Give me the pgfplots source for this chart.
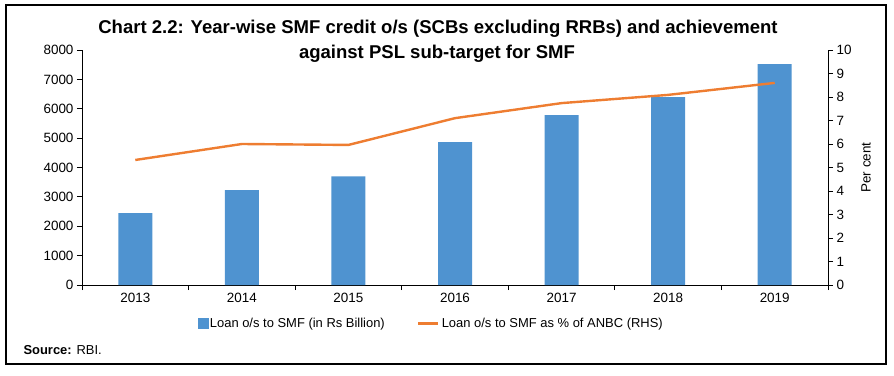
\documentclass[border=0pt]{standalone}
\usepackage{pgfplots}
\pgfplotsset{compat=1.18}
\usepackage{fontspec}
\setmainfont{Liberation Sans}
\definecolor{barblue}{HTML}{4F93D0}
\definecolor{lineorange}{HTML}{EE7D31}
\begin{document}
\begin{tikzpicture}[x=1bp,y=1bp]
\path[use as bounding box] (0,0) rectangle (894,375);
\draw[line width=1.2bp] (6,370) rectangle (886,11);
\node[anchor=base, font=\bfseries\fontsize{18.6}{22}\selectfont] at (438,341.5) {Chart 2.2: Year-wise SMF credit o/s (SCBs excluding RRBs) and achievement};
\node[anchor=base, font=\bfseries\fontsize{18.6}{22}\selectfont] at (437,316.5) {against PSL sub-target for SMF};
\node[anchor=base west, font=\fontsize{13}{15}\selectfont] at (20,21) {\textbf{Source:} RBI.};
\begin{axis}[
  at={(82bp,90bp)}, anchor=south west,
  scale only axis, width=746bp, height=235bp,
  xmin=-0.5, xmax=6.5, ymin=0, ymax=8000,
  axis x line*=bottom, axis y line*=left,
  ytick={0,1000,...,8000},
  xtick={0,...,6}, xticklabels={2013,2014,2015,2016,2017,2018,2019},
  major x tick style={draw=none},
  minor xtick={-0.5,0.5,...,6.5},
  tick align=outside, major tick length=5bp, minor tick length=5bp,
  scaled y ticks=false,
  /pgf/number format/1000 sep={},
  /pgf/number format/assume math mode=true,
  tick label style={font=\fontsize{13.5}{15}\selectfont},
  axis line style={line width=0.8bp},
  tick style={line width=0.8bp, black},
  ybar, bar width=34bp,
]
\addplot[fill=barblue, draw=none] coordinates {(0,2450) (1,3230) (2,3700) (3,4860) (4,5780) (5,6400) (6,7520)};
\end{axis}
\begin{axis}[
  at={(82bp,90bp)}, anchor=south west,
  scale only axis, width=746bp, height=235bp,
  xmin=-0.5, xmax=6.5, ymin=0, ymax=10,
  axis x line=none, axis y line*=right,
  ytick={0,1,...,10},
  tick align=outside, major tick length=5bp,
  /pgf/number format/assume math mode=true,
  tick label style={font=\fontsize{13.5}{15}\selectfont},
  axis line style={line width=0.8bp},
  tick style={line width=0.8bp, black},
  ylabel={Per cent},
  ylabel style={at={(axis description cs:1.051,0.5)}, anchor=center, rotate=0, font=\fontsize{13.5}{15}\selectfont},
  legend columns=2,
  legend style={draw=none, at={(0.468,-0.162)}, anchor=center, font=\fontsize{13}{15}\selectfont,
    /tikz/every even column/.append style={column sep=30bp}},
]
\addlegendimage{legend image code/.code={\fill[barblue] (2bp,-5bp) rectangle (12bp,5bp);}}
\addlegendentry{Loan o/s to SMF (in Rs Billion)}
\addplot[lineorange, line width=2.4bp, legend image code/.code={\draw[lineorange, line width=3bp] (0bp,0bp) -- (20bp,0bp);}] coordinates {(0,5.32) (1,6.0) (2,5.96) (3,7.1) (4,7.74) (5,8.09) (6,8.6)};
\addlegendentry{Loan o/s to SMF as \% of ANBC (RHS)}
\end{axis}
\end{tikzpicture}
\end{document}
